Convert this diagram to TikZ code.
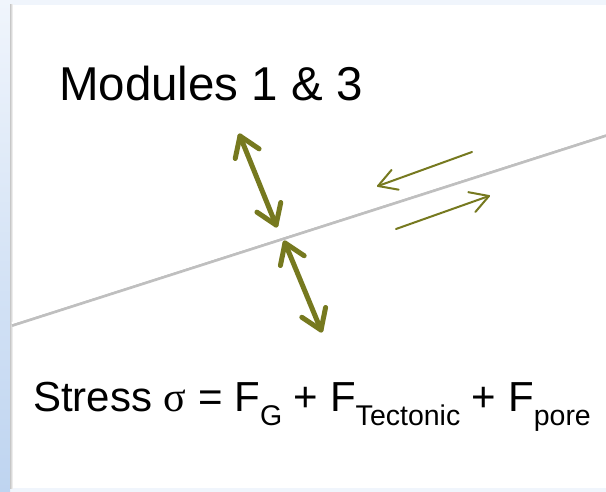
\documentclass[tikz,border=0pt]{standalone}
\usepackage{fontspec}
\setmainfont{Liberation Sans}
\newfontfamily\symfont{Liberation Serif}
\usetikzlibrary{calc}
\definecolor{faultolive}{RGB}{118,121,31}
\definecolor{bgtop}{RGB}{240,245,252}
\definecolor{bgblue}{RGB}{190,212,240}
\newcommand\lowtxt[1]{\raisebox{-14pt}{\fontsize{28.5}{32}\selectfont #1}}
% V-shaped open head: style, tip, other end, wing length, half angle
\newcommand\vhead[5]{\draw[#1] ($(#2)!#4!#5:(#3)$) -- (#2) -- ($(#2)!#4!-#5:(#3)$);}
\tikzset{
  thickline/.style={draw=faultolive, line width=5pt, line cap=round, line join=round},
  thinline/.style={draw=faultolive, line width=2pt, line cap=round, line join=round},
  label/.style={anchor=base west, inner sep=0pt, text=black}
}
\begin{document}
\begin{tikzpicture}[x=1pt,y=-1pt]
\useasboundingbox (0,0) rectangle (606,492);
% background frame
\fill[bgtop] (0,0) rectangle (606,492);
\shade[top color=bgtop, bottom color=bgblue] (0,0) rectangle (10,492);
\fill[white] (10,5) rectangle (606,488);
\shade[left color=black!22, right color=white] (10,5) rectangle (13,488);
% fault line
\coordinate (fl) at (12,323);
\coordinate (fr) at (606,133);
\draw[black!25, line width=3pt] ($(fl)+(0,2.5)$) -- ($(fr)+(0,2.5)$);
\draw[white, line width=2pt] (fl) -- (fr);
% normal stress arrows
\coordinate (a1) at (240,136);
\coordinate (a2) at (276,225);
\coordinate (b1) at (285,243);
\coordinate (b2) at (321,330);
\draw[thickline] (a1) -- (a2);
\draw[thickline] (b1) -- (b2);
\vhead{thickline}{a1}{a2}{23pt}{34}
\vhead{thickline}{a2}{a1}{23pt}{34}
\vhead{thickline}{b1}{b2}{23pt}{34}
\vhead{thickline}{b2}{b1}{23pt}{34}
% shear arrows
\coordinate (c1) at (472,152);
\coordinate (c2) at (378,186);
\coordinate (d1) at (396,229);
\coordinate (d2) at (489,196);
\draw[thinline] (c1) -- (c2);
\draw[thinline] (d1) -- (d2);
\vhead{thinline}{c2}{c1}{21pt}{30}
\vhead{thinline}{d2}{d1}{21pt}{30}
% texts
\node[label, font=\fontsize{47.5}{56}\selectfont] (mod) at (59,101) {Modules 1 \& 3};
\node[label, font=\fontsize{42}{50}\selectfont] (stress) at (33,411)
  {Stress {\symfont σ} = F\lowtxt{G} + F\lowtxt{Tectonic} + F\lowtxt{pore}};
\end{tikzpicture}
\end{document}
